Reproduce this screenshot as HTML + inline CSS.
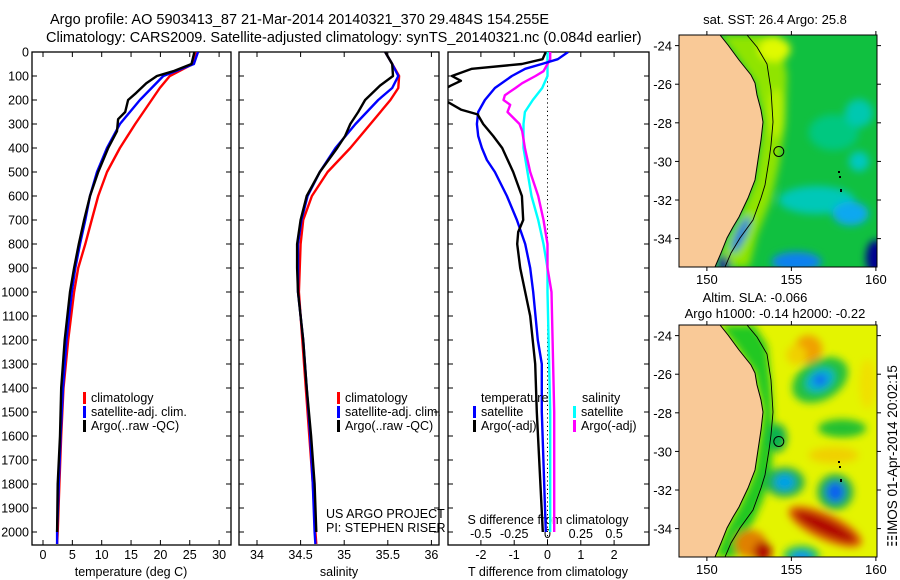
<!DOCTYPE html>
<html><head><meta charset="utf-8">
<style>
html,body{margin:0;padding:0;background:#fff;}
svg{display:block;font-family:"Liberation Sans",sans-serif;}
text{fill:#000;}
</style></head>
<body>
<svg id="chart" width="900" height="580" viewBox="0 0 900 580" xmlns="http://www.w3.org/2000/svg">
<defs>
 <filter id="blur" x="-20%" y="-20%" width="140%" height="140%"><feGaussianBlur stdDeviation="4"/></filter>
 <clipPath id="clip1"><rect x="32" y="52" width="199" height="493"/></clipPath>
 <clipPath id="clip2"><rect x="239" y="52" width="200" height="493"/></clipPath>
 <clipPath id="clip3"><rect x="448" y="52" width="201" height="493"/></clipPath>
 <clipPath id="mapclip"><rect x="0" y="0" width="198" height="232"/></clipPath>
</defs>
<text x="50" y="24" font-size="14.5">Argo profile: AO 5903413_87 21-Mar-2014 20140321_370 29.484S 154.255E</text>
<text x="46" y="42" font-size="14.5">Climatology: CARS2009. Satellite-adjusted climatology: synTS_20140321.nc (0.084d earlier)</text>
<g id="panels"></g>
<g id="maps"></g>
</svg>
<script>
// ---------- data ----------
const depthT = [0,50,100,150,200,300,400,500,600,700,800,900,1000,1200,1400,1600,1800,2000,2050];
const tempClim = [26.2,25.5,21.6,19.9,18.5,15.7,13.1,10.9,9.4,8.3,7.2,6.0,5.3,4.3,3.5,3.1,2.8,2.5,2.4];
const tempSat  = [26.4,25.7,20.5,18.5,16.5,13.1,10.9,9.2,8.0,7.2,6.3,5.5,4.9,4.0,3.4,3.0,2.7,2.4,2.4];
const depthArgoT = [0,50,80,100,130,170,200,250,280,330,400,500,600,700,800,900,1000,1200,1400,1600,1800,2000];
const tempArgo = [25.8,25.3,22.2,19.4,17.6,15.9,14.5,14.0,12.8,12.6,11.1,9.4,8.0,7.0,6.1,5.3,4.6,3.7,3.1,2.9,2.5,2.4];

const depthS = [0,50,100,150,200,300,400,500,600,700,800,1000,1200,1400,1600,1800,2000,2050];
const salClim = [35.47,35.55,35.63,35.62,35.53,35.30,35.07,34.81,34.63,34.53,34.50,34.48,34.52,34.56,34.60,34.64,34.67,34.68];
const salSat  = [35.47,35.55,35.62,35.55,35.39,35.13,34.90,34.72,34.58,34.51,34.47,34.47,34.53,34.57,34.61,34.64,34.66,34.67];
const depthArgoS = [0,50,100,140,200,250,300,350,400,500,600,700,800,900,1000,1200,1400,1600,1800,2000];
const salArgo = [35.47,35.55,35.56,35.41,35.24,35.16,35.07,35.01,34.92,34.72,34.57,34.50,34.46,34.46,34.47,34.53,34.57,34.62,34.66,34.68];

const depthTd = [0,30,50,70,100,120,140,170,200,240,260,300,350,400,500,600,700,750,800,900,1000,1100,1300,1500,2000];
const tdiffArgo = [-0.05,-0.15,-0.77,-2.27,-2.87,-2.6,-2.9,-3.3,-3.1,-2.6,-2.1,-1.93,-1.63,-1.36,-1.03,-0.77,-0.73,-0.88,-0.91,-0.82,-0.67,-0.52,-0.37,-0.32,-0.14];
const depthTs = [0,30,50,70,100,150,200,250,300,350,400,450,500,600,700,800,900,1000,1200,1300,1500,2000];
const tdiffSat = [0.62,0.31,-0.17,-0.67,-1.07,-1.58,-1.88,-2.08,-2.12,-2.08,-1.97,-1.82,-1.58,-1.22,-0.92,-0.67,-0.52,-0.43,-0.29,-0.17,-0.17,-0.05];
const depthSs = [0,100,150,200,250,300,400,500,600,700,800,900,1000,1500,2000];
const sdiffSat = [0,0,-0.04,-0.11,-0.17,-0.18,-0.18,-0.15,-0.12,-0.07,-0.03,0,0.0,0.02,0.02];
const depthSa = [0,30,50,80,100,130,150,180,200,220,250,300,330,400,500,600,700,800,900,1000,1500,2000];
const sdiffArgo = [0.02,0.02,0,-0.03,-0.09,-0.19,-0.24,-0.32,-0.33,-0.28,-0.30,-0.21,-0.19,-0.17,-0.13,-0.07,-0.03,0,0,0.03,0.05,0.05];

const depthTicks = [0,100,200,300,400,500,600,700,800,900,1000,1100,1200,1300,1400,1500,1600,1700,1800,1900,2000];
const tempTicks = [0,5,10,15,20,25,30];
const salTicks = ["34","34.5","35","35.5","36"];
const tdTicks = ["-2","-1","0","1","2"];
const sdTicks = ["-0.5","-0.25","0","0.25","0.5"];
const lonTicks = [150,155,160];
const latTicks = [-24,-26,-28,-30,-32,-34];

// ---------- helpers ----------
const NS="http://www.w3.org/2000/svg";
function mk(tag, attrs, parent){const e=document.createElementNS(NS,tag);for(const k in attrs)e.setAttribute(k,attrs[k]);parent.appendChild(e);return e;}
const yD = d => 52 + d*0.24;
const xT = t => 43 + t*5.87;
const xS = s => 257 + (s-34)*87.2;
const xTd = t => 547.5 + t*33.3;
const xSd = s => 547.5 + s*133.2;
const panels=document.getElementById('panels');

function frame(x0,x1,name){
  const r=mk('rect',{x:x0,y:52,width:x1-x0,height:493,fill:'none',stroke:'#000','stroke-width':1.3},panels);
  
  
  depthTicks.forEach(d=>{
    mk('line',{x1:x0,x2:x0+5,y1:yD(d),y2:yD(d),stroke:'#000'},panels);
    mk('line',{x1:x1-5,x2:x1,y1:yD(d),y2:yD(d),stroke:'#000'},panels);
  });
}
function line(xs,ds,fx,color,clip,name,w){
  const pts=xs.map((v,i)=>fx(v).toFixed(1)+','+yD(ds[i]).toFixed(1)).join(' ');
  const p=mk('polyline',{points:pts,fill:'none',stroke:color,'stroke-width':w||2.4,'clip-path':'url(#'+clip+')','stroke-linejoin':'round'},panels);
  
  
}
function txt(x,y,s,size,anchor,name,parent){
  const t=mk('text',{x:x,y:y,'font-size':size||12.5,'text-anchor':anchor||'start'},parent||panels);
  t.textContent=s;
  
  
  return t;
}
function legend(x,y,color,label,name){
  const m=mk('rect',{x:x,y:y-10,width:3,height:12,fill:color},panels);
  
  
  txt(x+8,y,label,12.5,'start',name);
}

depthTicks.forEach(d=>txt(29,yD(d)+4.5,String(d),12.5,'end','y-tick-label'));

// ---------- panel 1 ----------
frame(32,231,'temperature-panel');
tempTicks.forEach(t=>{
  mk('line',{x1:xT(t),x2:xT(t),y1:52,y2:57,stroke:'#000'},panels);
  mk('line',{x1:xT(t),x2:xT(t),y1:540,y2:545,stroke:'#000'},panels);
  txt(xT(t),559,String(t),12.5,'middle','x-tick-label-temp');
});
txt(131,576,'temperature (deg C)',12.5,'middle','temperature-axis-title');
line(tempClim,depthT,xT,'#ff0000','clip1','temp-climatology-line');
line(tempSat,depthT,xT,'#0000ff','clip1','temp-satellite-line');
line(tempArgo,depthArgoT,xT,'#000000','clip1','temp-argo-line');
legend(83,402,'#ff0000','climatology','legend-climatology');
legend(83,416,'#0000ff','satellite-adj. clim.','legend-satellite');
legend(83,430,'#000000','Argo(..raw -QC)','legend-argo');

// ---------- panel 2 ----------
frame(239,439,'salinity-panel');
salTicks.forEach(s=>{
  const x=xS(parseFloat(s));
  mk('line',{x1:x,x2:x,y1:52,y2:57,stroke:'#000'},panels);
  mk('line',{x1:x,x2:x,y1:540,y2:545,stroke:'#000'},panels);
  txt(x,559,s,12.5,'middle','x-tick-label-sal');
});
txt(339,576,'salinity',12.5,'middle','salinity-axis-title');
line(salClim,depthS,xS,'#ff0000','clip2','sal-climatology-line');
line(salSat,depthS,xS,'#0000ff','clip2','sal-satellite-line');
line(salArgo,depthArgoS,xS,'#000000','clip2','sal-argo-line');
legend(337,402,'#ff0000','climatology','legend-climatology-2');
legend(337,416,'#0000ff','satellite-adj. clim.','legend-satellite-2');
legend(337,430,'#000000','Argo(..raw -QC)','legend-argo-2');
txt(326,518,'US ARGO PROJECT',12.5,'start','project-credit');
txt(326,532,'PI: STEPHEN RISER',12.5,'start','pi-credit');

// ---------- panel 3 ----------
frame(448,649,'difference-panel');
const z=mk('line',{x1:xTd(0),x2:xTd(0),y1:52,y2:545,stroke:'#000','stroke-dasharray':'1.2,3'},panels);

tdTicks.forEach(s=>{
  const x=xTd(parseFloat(s));
  mk('line',{x1:x,x2:x,y1:540,y2:545,stroke:'#000'},panels);
  txt(x,559,s,12.5,'middle','x-tick-label-tdiff');
});
sdTicks.forEach(s=>{
  const x=xSd(parseFloat(s));
  mk('line',{x1:x,x2:x,y1:52,y2:57,stroke:'#000'},panels);
  txt(x,538,s,12.5,'middle','s-tick-label');
});
txt(548,524,'S difference from climatology',12.5,'middle','s-diff-axis-title');
txt(548,576,'T difference from climatology',12.5,'middle','t-diff-axis-title');
line(sdiffSat,depthSs,xSd,'#00ffff','clip3','sdiff-satellite-line');
line(sdiffArgo,depthSa,xSd,'#ff00ff','clip3','sdiff-argo-line');
line(tdiffSat,depthTs,xTd,'#0000ff','clip3','tdiff-satellite-line');
line(tdiffArgo,depthTd,xTd,'#000000','clip3','tdiff-argo-line');
txt(481,402,'temperature',12.5,'start','legend-temperature-header');
legend(473,416,'#0000ff','satellite','legend-tdiff-satellite');
legend(473,430,'#000000','Argo(-adj)','legend-tdiff-argo');
txt(582,402,'salinity',12.5,'start','legend-salinity-header');
legend(573,416,'#00ffff','satellite','legend-sdiff-satellite');
legend(573,430,'#ff00ff','Argo(-adj)','legend-sdiff-argo');

// ---------- maps ----------
const maps=document.getElementById('maps');
const mLon = l => (l-148.35)*16.9;
const mLat = l => (-23.45-l)*19.3;
const land="0,0 41,0 45,5 49,10 60,25 72,40 76,48 78,60 82,75 84,87 82,105 79,125 76,145 69,163 60,182 54,192 48,203 42,218 36,232 0,232";
const shelf="68,0 78,12 88,29 92,55 94,87 92,110 90,125 86,150 82,163 74,185 61,203 52,218 46,232";
// coastal band polygon (pixel shape, not data)
const sstBand="41,0 100,0 108,40 106,90 100,130 92,165 78,200 70,232 36,232 48,203 60,182 69,163 76,145 79,125 82,105 84,87 82,75 78,60 76,48 60,25";
const slaBand="41,0 75,0 88,20 92,60 95,110 92,150 84,175 68,210 58,232 36,232 48,203 60,182 69,163 76,145 79,125 82,105 84,87 82,75 78,60 76,48 60,25";

function buildMap(ox,oy,name,blobs,base,band,bandColor){
  const g=mk('g',{transform:'translate('+ox+','+oy+')'},maps);
  
  
  const inner=mk('g',{'clip-path':'url(#mapclip)'},g);
  mk('rect',{x:0,y:0,width:198,height:232,fill:base},inner);
  const bg=mk('g',{filter:'url(#blur)'},inner);
  mk('polygon',{points:band,fill:bandColor},bg);
  blobs.forEach(b=>{const cx=mLon(b[0]),cy=mLat(b[1]);
    mk('ellipse',{cx:cx,cy:cy,rx:b[2],ry:b[3],fill:b[4],transform:'rotate('+(b[5]||0)+' '+cx+' '+cy+')'},bg);});
  const l=mk('polygon',{points:land,fill:'#f9c997',stroke:'#000','stroke-width':1},inner);
  
  mk('polyline',{points:shelf,fill:'none',stroke:'#000','stroke-width':0.9},inner);
  mk('rect',{x:160,y:141,width:2,height:2,fill:'#000'},inner);
  mk('rect',{x:159,y:136,width:2,height:2,fill:'#000'},inner);
  mk('rect',{x:161,y:154,width:2,height:3,fill:'#000'},inner);
  const c=mk('circle',{cx:mLon(154.255),cy:mLat(-29.484),r:5,fill:'none',stroke:'#000','stroke-width':1},g);
  
  mk('rect',{x:0,y:0,width:198,height:232,fill:'none',stroke:'#000','stroke-width':1},g);
  lonTicks.forEach(l=>{
    const x=mLon(l);
    mk('line',{x1:x,x2:x,y1:0,y2:-4,stroke:'#000'},g);
    mk('line',{x1:x,x2:x,y1:232,y2:236,stroke:'#000'},g);
    txt(x,249,String(l),13,'middle','lon-tick-label',g);
  });
  latTicks.forEach(l=>{
    const y=mLat(l);
    mk('line',{x1:0,x2:-4,y1:y,y2:y,stroke:'#000'},g);
    mk('line',{x1:198,x2:202,y1:y,y2:y,stroke:'#000'},g);
    txt(-7,y+5,String(l),13,'end','lat-tick-label',g);
  });
  return g;
}
const sstBlobs=[
 [154.0,-24.2,16,12,'#e0fa00'],[154.1,-27.5,8,25,'#b8f000'],
 [157.5,-28.5,25,18,'#00c880'],[159,-27.5,14,14,'#00c8b0'],
 [156.5,-32,38,14,'#00c8b8'],[158.5,-32.7,18,12,'#10a8f0'],[159,-30,10,10,'#00c8c0'],
 [155.3,-35.2,25,10,'#1080f0'],[160,-35,10,18,'#000090'],
 [152.0,-33.8,5,20,'#0070e0',25],[151.0,-35.3,6,8,'#000090']
];
buildMap(679,35,'sst-map',sstBlobs,'#10c040',sstBand,'#90e400');
const slaBlobs=[
 [154.2,-29.3,9,14,'#10b050'],
 [156,-24.7,14,14,'#f0a000'],[155.3,-25,10,10,'#f0d000'],
 [156.7,-26.3,30,20,'#20c040',-30],[156.7,-26.3,15,10,'#00b0d0',-30],[156.7,-26.3,7,6,'#1070f0'],
 [158,-28.8,24,9,'#20c030'],[157.5,-30.2,25,8,'#f0d000'],
 [154.6,-31.6,20,15,'#20b050'],[154.6,-31.6,10,8,'#00a0e8'],
 [157.6,-32.1,18,18,'#20b050'],[157.6,-32.1,9,10,'#1060f0'],
 [157,-33.9,40,13,'#e06000',25],[157,-33.9,34,8,'#b00000',25],
 [152.6,-34.8,16,14,'#e08000'],[153.3,-35.2,9,10,'#b01000'],
 [155.6,-35.4,18,10,'#20c060'],[155.6,-35.5,10,6,'#1090f0'],
 [159.5,-26.5,8,25,'#f0e000']
];
buildMap(679,325,'sla-map',slaBlobs,'#e4f400',slaBand,'#20c820');
txt(775,24,'sat. SST: 26.4 Argo: 25.8',13,'middle','sst-map-title',maps);
txt(755,302,'Altim. SLA: -0.066',13,'middle','sla-map-title',maps);
txt(775,318,'Argo h1000: -0.14 h2000: -0.22',13,'middle','sla-map-subtitle',maps);
const im=txt(0,0,'\u2637IMOS 01-Apr-2014 20:02:15',13.5,'middle','imos-timestamp',maps);
im.setAttribute('transform','translate(897,456) rotate(-90)');
</script>
</body></html>
